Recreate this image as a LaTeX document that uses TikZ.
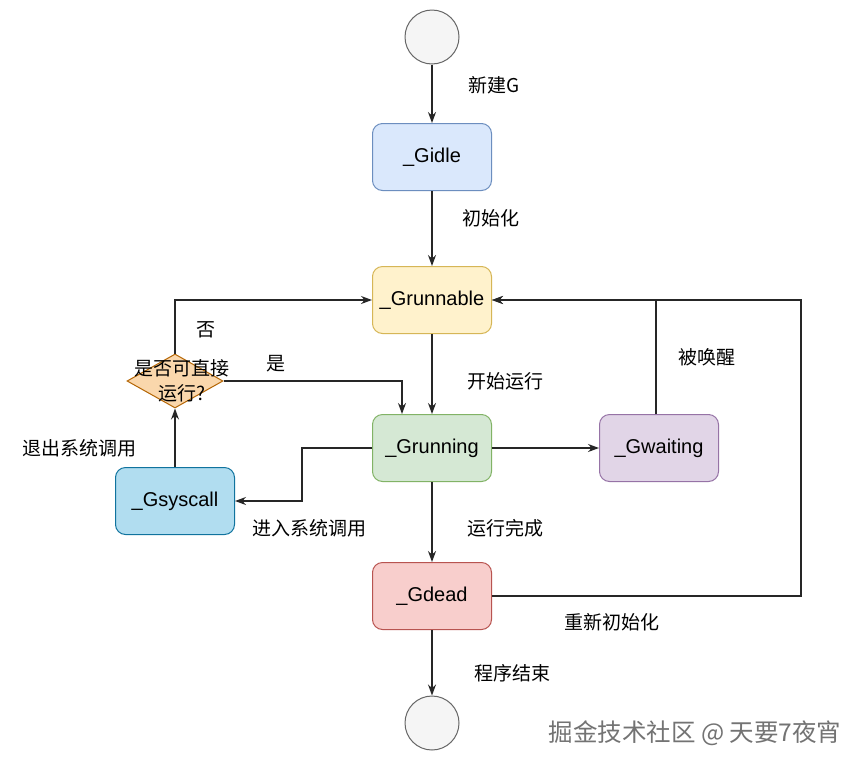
\documentclass[tikz,border=0pt]{standalone}
\usepackage{fontspec}
\setmainfont{Liberation Sans}
\newfontfamily\cjk{Noto Sans CJK SC}
\usetikzlibrary{shapes.geometric,arrows.meta}
\definecolor{idleF}{HTML}{DAE8FC}\definecolor{idleD}{HTML}{6C8EBF}
\definecolor{runnF}{HTML}{FFF2CC}\definecolor{runnD}{HTML}{D6B656}
\definecolor{runF}{HTML}{D5E8D4}\definecolor{runD}{HTML}{82B366}
\definecolor{waitF}{HTML}{E1D5E7}\definecolor{waitD}{HTML}{9673A6}
\definecolor{sysF}{HTML}{B1DDF0}\definecolor{sysD}{HTML}{10739E}
\definecolor{deadF}{HTML}{F8CECC}\definecolor{deadD}{HTML}{B85450}
\definecolor{diaF}{HTML}{FAD7AC}\definecolor{diaD}{HTML}{B46504}
\definecolor{termF}{HTML}{F5F5F5}\definecolor{termD}{HTML}{666666}
\tikzset{
  state/.style={draw, rounded corners=10pt, minimum width=119pt, minimum height=67pt,
    line width=1pt, inner sep=0pt, font=\fontsize{20}{24}\selectfont},
  term/.style={circle, draw=termD, fill=termF, minimum size=54pt, inner sep=0pt, line width=1pt},
  lbl/.style={font=\cjk\fontsize{19}{23}\selectfont, inner sep=0pt},
  arr/.style={-{Stealth[length=11pt,width=8pt]}, line width=1.2pt, draw=black!85},
  ln/.style={line width=1.2pt, draw=black!85}
}
\begin{document}
\begin{tikzpicture}[x=1pt,y=-1pt]
\useasboundingbox[fill=white] (0,0) rectangle (867,769);
% nodes
\node[term] (start) at (432,37) {};
\node[state, fill=idleF, draw=idleD] (idle) at (432,157) {\_Gidle};
\node[state, fill=runnF, draw=runnD] (runnable) at (432,300) {\_Grunnable};
\node[state, fill=runF, draw=runD] (running) at (432,448) {\_Grunning};
\node[state, fill=waitF, draw=waitD] (waiting) at (659,448) {\_Gwaiting};
\node[state, fill=sysF, draw=sysD] (syscall) at (175,501) {\_Gsyscall};
\node[state, fill=deadF, draw=deadD] (dead) at (432,596) {\_Gdead};
\node[term] (end) at (432,723) {};
\node[diamond, draw=diaD, fill=diaF, line width=1pt, minimum width=96pt, minimum height=54pt, inner sep=0pt] (dia) at (175,381) {};
\node[lbl, align=center, font=\cjk\fontsize{19}{25}\selectfont] (dialbl) at (182,381) {是否可直接\\运行?};
% edges
\draw[arr] (start) -- (idle);
\draw[arr] (idle) -- (runnable);
\draw[arr] (runnable) -- (running);
\draw[arr] (running) -- (dead);
\draw[arr] (dead) -- (end);
\draw[arr] (running) -- (waiting);
\draw[arr] (dia.north) |- (runnable.west);
\draw[arr] (dia.east) -| ([xshift=-30pt]running.north);
\draw[arr] (syscall.north) -- (dia.south);
\draw[arr] (running.west) -- ++(-70,0) |- (syscall.east);
\draw[arr] ([xshift=-3pt]waiting.north) |- (runnable.east);
\draw[arr] (dead.east) -- ++(309,0) |- (runnable.east);
% labels
\node[lbl] (l1) at (494,85) {新建G};
\node[lbl] (l2) at (491,218) {初始化};
\node[lbl] (l3) at (505,381) {开始运行};
\node[lbl] (l4) at (206,330) {否};
\node[lbl] (l5) at (276,364) {是};
\node[lbl] (l6) at (80,448) {退出系统调用};
\node[lbl] (l7) at (309,528) {进入系统调用};
\node[lbl] (l8) at (707,357) {被唤醒};
\node[lbl] (l9) at (505,528) {运行完成};
\node[lbl] (l10) at (612,622) {重新初始化};
\node[lbl] (l11) at (512,673) {程序结束};
\node[lbl, font=\cjk\fontsize{24.5}{28}\selectfont, text=black!55] (wm) at (695,733) {掘金技术社区 @ 天要7夜宵};
\end{tikzpicture}
\end{document}
